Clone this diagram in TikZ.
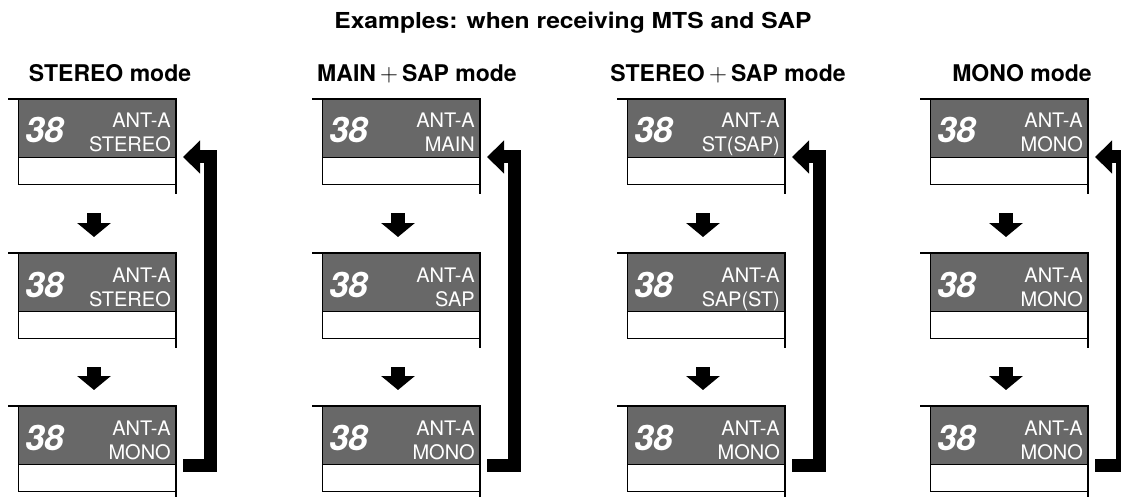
\documentclass[tikz,border=0pt]{standalone}
\usepackage{fontspec}
\setmainfont{TeX Gyre Heros}
\newfontfamily\titlefont[FakeStretch=1.12]{TeX Gyre Heros}
\usetikzlibrary{calc,arrows.meta}
\definecolor{lcdgray}{RGB}{104,104,104}
\begin{document}
\begin{tikzpicture}[
            x=1pt, y=-1pt,
            % gray display part of a screen
            lcd/.style={rectangle, draw=black, line width=0.7pt, fill=lcdgray,
                minimum width=158pt, minimum height=58pt, inner sep=0pt, outer sep=0pt},
            % white strip under the display
            lcdbar/.style={rectangle, draw=black, line width=0.7pt, fill=white,
                minimum width=158pt, minimum height=27pt, inner sep=0pt, outer sep=0pt},
            chnum/.style={text=white, inner sep=0pt, font=\fontsize{35}{35}\selectfont\bfseries\itshape},
            lcdtxt/.style={text=white, inner sep=0pt, font=\fontsize{20}{20}\selectfont},
            modehead/.style={inner sep=0pt, font=\fontsize{23}{26}\selectfont\bfseries},
            downarrow/.style={line width=14pt, -{Triangle[width=33pt, length=14pt]}},
            backarrow/.style={line width=13pt, miter limit=10, line join=miter,
                -{Triangle[width=32pt, length=17pt]}}
        ]
        \useasboundingbox (0,0) rectangle (1121,497);
        \node[inner sep=0pt, anchor=base, font=\titlefont\fontsize{22}{24}\selectfont\bfseries] (title)
            at (573,29) {Examples: when receiving MTS and SAP};
        \foreach \i/\xl/\hx/\head/\ma/\mb/\mc in {
                1/18/110/STEREO mode/STEREO/STEREO/MONO,
                2/322/417/MAIN$\,+\,$SAP mode/MAIN/SAP/MONO,
                3/627/728/STEREO$\,+\,$SAP mode/ST(SAP)/SAP(ST)/MONO,
                4/930/1022/MONO mode/MONO/MONO/MONO} {
            \node[modehead, anchor=base] (h\i) at (\hx,82) {\head};
            \foreach \j/\yt/\mode in {1/99/\ma, 2/253/\mb, 3/406/\mc} {
                \node[lcd, anchor=north west] (s\i\j) at (\xl,\yt) {};
                \node[lcdbar, anchor=north] (b\i\j) at (s\i\j.south) {};
                \draw[line width=2pt] ($(s\i\j.north west)+(-10,0)$) -- (s\i\j.north east)
                    -- ($(b\i\j.south east)+(0,10)$);
                \node[chnum, anchor=base west] (n\i\j) at ($(s\i\j.south west)+(7,-14)$) {38};
                \node[lcdtxt, anchor=base east] (a\i\j) at ($(s\i\j.south east)+(-5,-29)$) {ANT-A};
                \node[lcdtxt, anchor=base east] (m\i\j) at ($(s\i\j.south east)+(-5,-5)$) {\mode};
            }
            % step to the next mode
            \foreach \j/\k in {1/2, 2/3}
                \draw[downarrow] ($(b\i\j.south)+(-3,29)$) -- ($(s\i\k.north)+(-3,-16)$);
            % back to the first mode
            \draw[backarrow] ($(s\i3.south east)+(7,1)$) -| ($(s\i1.south east)+(34,0)$)
                -- ($(s\i1.south east)+(7,0)$);
        }
    \end{tikzpicture}
\end{document}
